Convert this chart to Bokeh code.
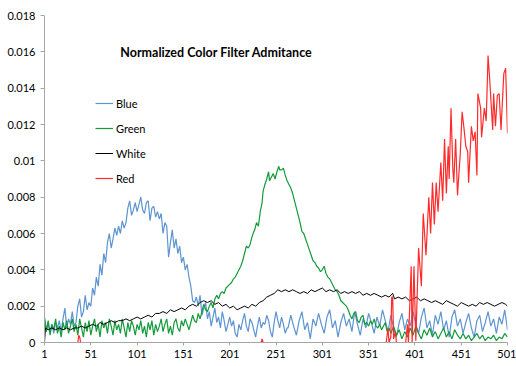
from bokeh.plotting import figure
from bokeh.models import FixedTicker, Label, Legend, LegendItem
from bokeh.embed import file_html
from bokeh.resources import INLINE

# ---------------- data ----------------
x_ticks = [1, 51, 101, 151, 201, 251, 301, 351, 401, 451, 501]
y_ticks = [0, 0.002, 0.004, 0.006, 0.008, 0.01, 0.012, 0.014, 0.016, 0.018]
y_tick_labels = ["0", "0.002", "0.004", "0.006", "0.008", "0.01", "0.012", "0.014", "0.016", "0.018"]

blue_x = [1, 3, 5, 7, 9, 11, 13, 15, 17, 19, 21, 23, 25, 27, 29, 31, 33, 35, 37, 39,
          41, 43, 45, 47, 49, 51, 53, 55, 57, 59, 61, 63, 65, 67, 69, 71, 73, 75, 77, 79,
          81, 83, 85, 87, 89, 91, 93, 95, 97, 99, 101, 103, 105, 107, 109, 111, 113, 115, 117, 119,
          121, 123, 125, 127, 129, 131, 133, 135, 137, 139, 141, 143, 145, 147, 149, 151, 153, 155, 157, 159,
          161, 163, 165, 167, 169, 171, 173, 175, 177, 179, 181, 183, 185, 187, 189, 191, 193, 195, 197, 199,
          201, 203, 205, 207, 209, 211, 213, 215, 217, 219, 221, 223, 225, 227, 229, 231, 233, 235, 237, 239,
          241, 243, 245, 247, 249, 251, 253, 255, 257, 259, 261, 263,
          264, 267, 270, 273, 276, 279, 282, 285, 288, 291, 294, 297, 300, 303, 306, 309, 312, 315, 318, 321,
          324, 327, 330, 333, 336, 339, 342, 345, 348, 351, 354, 357, 360, 363, 366, 369, 372, 375, 378, 381,
          384, 387, 390, 393, 396, 399, 402, 405, 408, 411, 414, 417, 420, 423, 426, 429, 432, 435, 438, 441,
          444, 447, 450, 453, 456, 459, 462, 465, 468, 471, 474, 477, 480, 483, 486, 489, 492, 495, 498, 501]
blue_y = [0.0013, 0.0007, 0.0011, 0.0006, 0.0010, 0.0005, 0.0011, 0.0008, 0.0012, 0.0006,
          0.0013, 0.0019, 0.0008, 0.0013, 0.0010, 0.0017, 0.0009, 0.0011, 0.0020, 0.0024,
          0.0014, 0.0017, 0.0026, 0.0018, 0.0022, 0.0020, 0.0030, 0.0026, 0.0036, 0.0031,
          0.0043, 0.0037, 0.0049, 0.0044, 0.0055, 0.0060, 0.0052, 0.0057, 0.0063, 0.0059,
          0.0064, 0.0060, 0.0067, 0.0063, 0.0066, 0.0074, 0.0078, 0.0070, 0.0073, 0.0077,
          0.0072, 0.0076, 0.0080, 0.0073, 0.0071, 0.0077, 0.0078, 0.0067, 0.0074, 0.0075,
          0.0069, 0.0072, 0.0068, 0.0071, 0.0060, 0.0066, 0.0064, 0.0047, 0.0055, 0.0062,
          0.0052, 0.0057, 0.0049, 0.0053, 0.0044, 0.0047, 0.0040, 0.0043, 0.0036, 0.0031,
          0.0023, 0.0022, 0.0025, 0.0020, 0.0026, 0.0015, 0.0019, 0.0022, 0.0013, 0.0017,
          0.0009, 0.0014, 0.0019, 0.0011, 0.0014, 0.0008, 0.0017, 0.0012, 0.0006, 0.0010,
          0.0014, 0.0009, 0.0012, 0.0005, 0.0003, 0.0010, 0.0007, 0.0012, 0.0016, 0.0009,
          0.0006, 0.0013, 0.0011, 0.0007, 0.0003, 0.0009, 0.0014, 0.0008, 0.0011, 0.0010,
          0.0015, 0.0012, 0.0006, 0.0003, 0.0011, 0.0017, 0.0012, 0.0008, 0.0014, 0.0010,
          0.0005, 0.0008,
          0.0008, 0.0015, 0.0009, 0.0004, 0.0012, 0.0017, 0.0007, 0.0011, 0.0002, 0.0013,
          0.0009, 0.0016, 0.0010, 0.0005, 0.0014, 0.0018, 0.0008, 0.0012, 0.0003, 0.0011,
          0.0016, 0.0009, 0.0013, 0.0006, 0.0017, 0.0010, 0.0004, 0.0013, 0.0008, 0.0016,
          0.0011, 0.0005, 0.0014, 0.0009, 0.0018, 0.0012, 0.0006, 0.0015, 0.0008, 0.0003,
          0.0011, 0.0016, 0.0007, 0.0013, 0.0009, 0.0017, 0.0010, 0.0005, 0.0014, 0.0019,
          0.0008, 0.0012, 0.0004, 0.0015, 0.0010, 0.0017, 0.0007, 0.0012, 0.0003, 0.0014,
          0.0018, 0.0009, 0.0013, 0.0005, 0.0011, 0.0016, 0.0008, 0.0003, 0.0012, 0.0015,
          0.0006, 0.0011, 0.0017, 0.0009, 0.0013, 0.0005, 0.0014, 0.0010, 0.0018, 0.0007]

green_x = [1, 3, 5, 7, 9, 11, 13, 15, 17, 19, 21, 23, 25, 27, 29, 31, 33, 35, 37, 39,
           41, 43, 45, 47, 49, 51, 53, 55, 57, 59, 61, 63, 65, 67, 69, 71, 73, 75, 77, 79,
           81, 83, 85, 87, 89, 91, 93, 95, 97, 99, 101, 103, 105, 107, 109, 111, 113, 115, 117, 119,
           121, 123, 125, 127, 129, 131, 133, 135, 137, 139, 141, 143, 145, 147, 149, 151, 153, 155, 157, 159,
           161, 163, 165, 167, 169, 171, 173, 175, 177, 179, 181, 183, 185, 187, 189, 191, 193, 195, 197, 199,
           201, 203, 205, 207, 209, 211, 213, 215, 217, 219, 221, 223, 225, 227, 228, 230, 232, 234, 236, 237,
           239, 241, 243, 244, 246, 248, 250, 252, 254, 255, 257, 259, 261, 263, 265, 267, 269, 271, 273, 275,
           277, 279, 281, 283, 285, 287, 289, 291, 293, 295, 297, 299, 301, 303, 305, 307, 309, 311, 313, 315,
           317, 319, 321, 323, 325, 327, 329, 331, 333, 335, 337, 339, 341, 343, 345, 347, 349, 351, 353, 355,
           357, 359, 361, 363, 365, 367, 369, 371, 373, 375,
           378, 381, 384, 387, 390, 393, 396, 399, 402, 405, 408, 411, 414, 417, 420, 423, 426, 429, 432, 435,
           438, 441, 444, 447, 450, 453, 456, 459, 462, 465, 468, 471, 474, 477, 480, 483, 486, 489, 492, 495,
           498, 501]
green_y = [0.0014, 0.0006, 0.0012, 0.0004, 0.0010, 0.0007, 0.0013, 0.0005, 0.0009, 0.0003,
           0.0011, 0.0007, 0.0012, 0.0005, 0.0009, 0.0013, 0.0006, 0.0010, 0.0004, 0.0013,
           0.0008, 0.0003, 0.0011, 0.0006, 0.0012, 0.0004, 0.0009, 0.0013, 0.0006, 0.0010,
           0.0003, 0.0012, 0.0008, 0.0011, 0.0005, 0.0013, 0.0009, 0.0004, 0.0012, 0.0007,
           0.0010, 0.0005, 0.0013, 0.0008, 0.0003, 0.0011, 0.0006, 0.0012, 0.0009, 0.0004,
           0.0010, 0.0007, 0.0012, 0.0005, 0.0009, 0.0003, 0.0011, 0.0007, 0.0012, 0.0004,
           0.0010, 0.0006, 0.0009, 0.0013, 0.0006, 0.0010, 0.0013, 0.0005, 0.0009, 0.0004,
           0.0011, 0.0013, 0.0008, 0.0006, 0.0012, 0.0009, 0.0013, 0.0010, 0.0007, 0.0011,
           0.0015, 0.0012, 0.0011, 0.0016, 0.0013, 0.0017, 0.0021, 0.0018, 0.0017, 0.0020,
           0.0022, 0.0019, 0.0024, 0.0026, 0.0024, 0.0027, 0.0028, 0.0027, 0.0030, 0.0031,
           0.0032, 0.0033, 0.0035, 0.0036, 0.0038, 0.0040, 0.0042, 0.0045, 0.0049, 0.0053,
           0.0052, 0.0054, 0.0058, 0.0061, 0.0062, 0.0066, 0.0064, 0.0072, 0.0077, 0.0083,
           0.0087, 0.0090, 0.0094, 0.0089, 0.0091, 0.0093, 0.0090, 0.0094, 0.0097, 0.0095,
           0.0095, 0.0096, 0.0092, 0.0089, 0.0087, 0.0085, 0.0082, 0.0078, 0.0074, 0.0070,
           0.0066, 0.0061, 0.0060, 0.0057, 0.0054, 0.0051, 0.0048, 0.0045, 0.0044, 0.0042,
           0.0041, 0.0039, 0.0040, 0.0042, 0.0038, 0.0036, 0.0035, 0.0033, 0.0031, 0.0029,
           0.0028, 0.0026, 0.0023, 0.0022, 0.0021, 0.0020, 0.0018, 0.0015, 0.0013, 0.0016,
           0.0017, 0.0012, 0.0011, 0.0014, 0.0015, 0.0010, 0.0011, 0.0009, 0.0012, 0.0010,
           0.0013, 0.0009, 0.0008, 0.0010, 0.0007, 0.0009, 0.0011, 0.0006, 0.0008, 0.0005,
           0.0009, 0.0004, 0.0007, 0.0002, 0.0006, 0.0003, 0.0008, 0.0004, 0.0009, 0.0005,
           0.0002, 0.0007, 0.0004, 0.0008, 0.0003, 0.0006, 0.0002, 0.0005, 0.0008, 0.0003,
           0.0006, 0.0002, 0.0007, 0.0004, 0.0002, 0.0005, 0.0002, 0.0004, 0.0001, 0.0003,
           0.0005, 0.0002, 0.0004, 0.0001, 0.0003, 0.0002, 0.0004, 0.0001, 0.0003, 0.0002,
           0.0005, 0.0003]

white_x = [1, 2, 5, 9, 13, 17, 21, 25, 29, 33, 37, 41, 45, 49, 53, 57, 61, 65, 69, 73,
           77, 81, 85, 89, 93, 97, 101, 105, 109, 113, 117, 121, 125, 129, 133, 137, 141, 145, 149, 153,
           157, 161, 165, 169, 173, 177, 181, 185, 189, 193, 197, 201, 205, 209, 213, 217, 221, 225, 229, 233,
           237, 241, 245, 249, 253, 257, 261, 265, 269, 273, 277, 281, 285, 289, 293, 297, 301, 305, 309, 313,
           317, 321, 325, 329, 333, 337, 341, 345, 349, 353, 357, 361, 365, 369, 373, 377, 379, 383, 387, 391,
           395, 399, 403, 407, 411, 415, 419, 423, 427, 431, 435, 439, 443, 447, 451, 455, 459, 463, 467, 471,
           475, 479, 483, 487, 491, 495, 499, 501]
white_y = [0.0, 0.0008, 0.0007, 0.0008, 0.0007, 0.0008, 0.0007, 0.0008, 0.0007, 0.0008,
           0.0008, 0.0009, 0.0008, 0.0009, 0.0010, 0.0009, 0.0011, 0.0010, 0.0011, 0.0012,
           0.0011, 0.0012, 0.0012, 0.0013, 0.0012, 0.0013, 0.0014, 0.0013, 0.0014, 0.0015,
           0.0014, 0.0016, 0.0016, 0.0017, 0.0016, 0.0018, 0.0017, 0.0018, 0.0019, 0.0018,
           0.0020, 0.0021, 0.0020, 0.0022, 0.0023, 0.0022, 0.0023, 0.0021, 0.0022, 0.0020,
           0.0021, 0.0019, 0.0020, 0.0018, 0.0019, 0.0020, 0.0019, 0.0021, 0.0020, 0.0022,
           0.0023, 0.0025, 0.0026, 0.0027, 0.0029, 0.0028, 0.0029, 0.0028, 0.0029, 0.0028,
           0.0027, 0.0028, 0.0027, 0.0029, 0.0028, 0.0029, 0.0030, 0.0028, 0.0029, 0.0028,
           0.0029, 0.0027, 0.0028, 0.0027, 0.0028, 0.0027, 0.0028, 0.0026, 0.0027, 0.0026,
           0.0027, 0.0026, 0.0025, 0.0026, 0.0025, 0.0027, 0.0024, 0.0025, 0.0024, 0.0025,
           0.0023, 0.0024, 0.0025, 0.0023, 0.0024, 0.0023, 0.0022, 0.0023, 0.0022, 0.0021,
           0.0023, 0.0022, 0.0021, 0.0020, 0.0022, 0.0021, 0.0020, 0.0021, 0.0020, 0.0022,
           0.0021, 0.0022, 0.0021, 0.0020, 0.0021, 0.0022, 0.0021, 0.0020]

red_x = [1, 37, 38, 39, 40, 235, 236, 237, 370, 372, 373, 375, 376, 377, 378, 380, 381, 391, 393, 394,
         397, 398, 400, 402, 405, 408, 410, 413, 416, 418, 420, 422, 424, 426, 429, 431, 433, 435, 437, 438,
         440, 442, 443, 445, 447, 450, 452, 454, 456, 458, 459, 462, 464, 466, 468, 469, 472, 473, 476, 478,
         479, 480, 482, 485, 486, 488, 490, 492, 494, 497, 499, 501]
red_y = [0.0, 0.0, 0.0004, 0.0003, 0.0, 0.0, 0.0002, 0.0, 0.0, 0.0008, 0.0, 0.0003, 0.0025, 0.0025, 0.0002,
         0.0006, 0.0, 0.0, 0.0010, 0.0,
         0.0042, 0.0, 0.0042, 0.0001, 0.0052, 0.0031, 0.0071, 0.0048, 0.0080, 0.0060,
         0.0088, 0.0065, 0.0088, 0.0072, 0.0099, 0.0078, 0.0112, 0.0082, 0.0108, 0.0090,
         0.0129, 0.0095, 0.0088, 0.0112, 0.0081, 0.0104, 0.0127, 0.0118, 0.0108, 0.0105,
         0.0088, 0.0119, 0.0111, 0.0116, 0.0092, 0.0137, 0.0129, 0.0113, 0.0129, 0.0122,
         0.0140, 0.0158, 0.0143, 0.0117, 0.0137, 0.0119, 0.0136, 0.0137, 0.0117, 0.0148,
         0.0151, 0.0115]

series_names = ["Blue", "Green", "White", "Red"]
series_colors = ["#5E94CF", "#139A3B", "#000000", "#FF2A2A"]
title_text = "Normalized Color Filter Admitance"

# ---------------- figure ----------------
FONT = "Lato"
p = figure(width=516, height=366, output_backend="svg", toolbar_location=None,
           x_range=(1, 501), y_range=(0, 0.018),
           min_border_left=44, min_border_right=9, min_border_top=15, min_border_bottom=24)
p.xgrid.visible = False
p.ygrid.visible = False
p.outline_line_color = None
p.background_fill_color = "white"
p.border_fill_color = "white"

renderers = []
for xs, ys, c, w in [(blue_x, blue_y, series_colors[0], 1.2),
                     (green_x, green_y, series_colors[1], 1.2),
                     (white_x, white_y, series_colors[2], 1.0),
                     (red_x, red_y, series_colors[3], 1.2)]:
    renderers.append(p.line(xs, ys, line_color=c, line_width=w))

for ax in (p.xaxis[0], p.yaxis[0]):
    ax.axis_line_color = "#A6A6A6"
    ax.major_tick_line_color = "#A6A6A6"
    ax.minor_tick_line_color = None
    ax.major_tick_in = 0
    ax.major_label_text_font = FONT
    ax.major_label_text_font_size = "11px"
    ax.major_label_text_color = "#000000"

p.xaxis.ticker = FixedTicker(ticks=x_ticks)
p.xaxis.major_tick_out = 3
p.xaxis.major_label_standoff = 4
p.yaxis.ticker = FixedTicker(ticks=y_ticks)
p.yaxis.major_label_overrides = dict(zip(y_ticks, y_tick_labels))
p.yaxis.major_tick_out = 4
p.yaxis.major_label_standoff = 5

legend = Legend(items=[LegendItem(label=n, renderers=[r]) for n, r in zip(series_names, renderers)],
                location=(51, 154), orientation="vertical",
                glyph_width=18, glyph_height=20, label_height=20, label_standoff=3,
                spacing=5, padding=0, margin=0,
                border_line_color=None, background_fill_alpha=0,
                label_text_font=FONT, label_text_font_size="11px", label_text_color="#000000")
p.add_layout(legend)

p.add_layout(Label(x=172, y=290, x_units="screen", y_units="screen", text=title_text,
                   text_font=FONT, text_font_style="bold", text_font_size="12.5px",
                   text_align="center", text_baseline="middle", text_color="#000000"))

open("out.html", "w").write(file_html(p, INLINE))
